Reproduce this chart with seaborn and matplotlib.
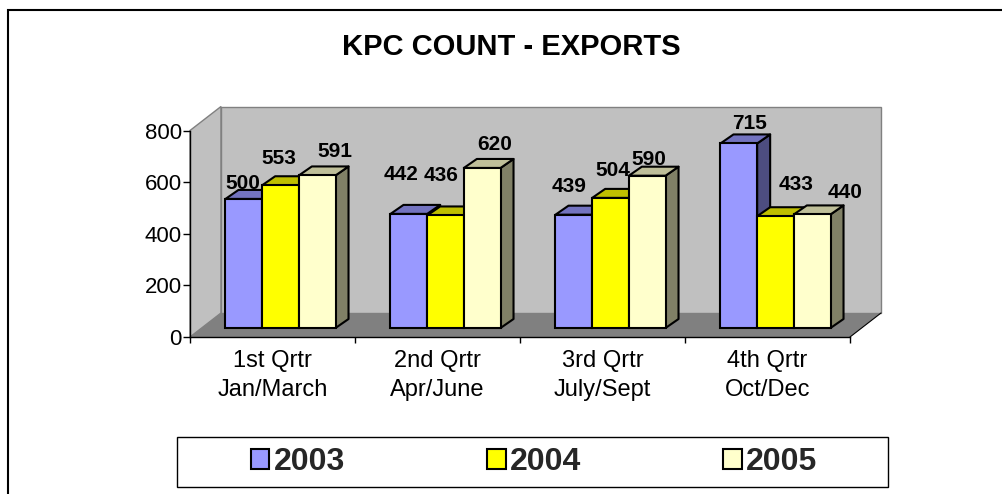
import numpy as np
import pandas as pd
import matplotlib
matplotlib.use("Agg")
import matplotlib.pyplot as plt
from matplotlib.patches import Polygon, Rectangle
from matplotlib.colors import to_rgb
import seaborn as sns

# data
quarters = ["1st Qrtr\nJan/March", "2nd Qrtr\nApr/June", "3rd Qrtr\nJuly/Sept", "4th Qrtr\nOct/Dec"]
years = ["2003", "2004", "2005"]
counts_2003 = [500, 442, 439, 715]
counts_2004 = [553, 436, 504, 433]
counts_2005 = [591, 620, 590, 440]
colors = ["#9999FF", "#FFFF00", "#FFFFCC"]

df = pd.DataFrame({
    "quarter": quarters * 3,
    "year": [years[0]] * 4 + [years[1]] * 4 + [years[2]] * 4,
    "count": counts_2003 + counts_2004 + counts_2005,
})

# excel-style label nudges (pixels, from top-front of each bar), left to right
label_nudge = [(-1, 15), (-2, 27), (18, 24),
               (-8, 39), (-4, 40), (13, 23),
               (-5, 28), (2, 27), (2, 16),
               (11, 20), (21, 32), (33, 22)]

sns.set_theme(style="white")
plt.rcParams["font.family"] = ["Liberation Sans", "DejaVu Sans"]

W, H = 1003, 494
fig = plt.figure(figsize=(W / 100, H / 100), dpi=100)

# front plane (axis) in pixels
x_left, x_right, y_zero, y_top = 190, 850, 337, 130.5
ax = fig.add_axes([x_left / W, 1 - y_zero / H, (x_right - x_left) / W, (y_zero - y_top) / H])
ax.set_xlim(-0.5, 3.5)
ax.set_ylim(0, 800)
ax.patch.set_alpha(0)

px_x = (x_right - x_left) / 4.0      # pixels per category
px_y = (y_zero - y_top) / 800.0      # pixels per unit

# walls and floor
wdx, wdy = 31 / px_x, 24 / px_y
ax.add_patch(Polygon([(-0.5, 0), (-0.5 + wdx, wdy), (-0.5 + wdx, 800 + wdy), (-0.5, 800)],
                     closed=True, facecolor="#C0C0C0", edgecolor="#808080", lw=1, clip_on=False, zorder=0))
ax.add_patch(Rectangle((-0.5 + wdx, wdy), 4, 800, facecolor="#C0C0C0", edgecolor="#808080",
                       lw=1, clip_on=False, zorder=0))
ax.add_patch(Polygon([(-0.5, 0), (3.5, 0), (3.5 + wdx, wdy), (-0.5 + wdx, wdy)],
                     closed=True, facecolor="#808080", edgecolor="none", clip_on=False, zorder=1))
ax.plot([3.5, 3.5 + wdx], [0, wdy], color="black", lw=0.8, clip_on=False, zorder=2)

for s in ["top", "right"]:
    ax.spines[s].set_visible(False)
for s in ["left", "bottom"]:
    ax.spines[s].set_color("black")
    ax.spines[s].set_linewidth(1)
ax.set_yticks([0, 200, 400, 600, 800])
ax.tick_params(axis="y", which="major", left=True, length=5, width=1, color="black",
               labelsize=16, pad=1, labelcolor="black")
ax.set_xticks([-0.5, 0.5, 1.5, 2.5, 3.5])
ax.set_xticklabels([])
ax.set_xticks([0, 1, 2, 3], minor=True)
ax.set_xticklabels(quarters, minor=True, fontsize=17, color="black", linespacing=1.45)
ax.tick_params(axis="x", which="major", bottom=True, length=4, width=1, color="black")
ax.tick_params(axis="x", which="minor", bottom=False, length=0, pad=9)
ax.set_xlabel("")
ax.set_ylabel("")

# bar plane, shifted into the depth
bdx, bdy = 8, 9
ax_bars = fig.add_axes([(x_left + bdx) / W, 1 - (y_zero - bdy) / H, (x_right - x_left) / W, (y_zero - y_top) / H])
sns.barplot(data=df, x="quarter", y="count", hue="year", palette=colors, width=0.667,
            saturation=1, edgecolor="black", linewidth=1.5, errorbar=None, ax=ax_bars)
handles, labels = ax_bars.get_legend_handles_labels()
ax_bars.get_legend().remove()
ax_bars.set_xlim(-0.5, 3.5)
ax_bars.set_ylim(0, 800)
ax_bars.axis("off")
ax_bars.patch.set_alpha(0)

# 3D sides and tops
ddx, ddy = 13 / px_x, 9 / px_y
bars = []
for c, cont in enumerate(ax_bars.containers):
    for b in cont:
        bars.append((b.get_x(), b, colors[c]))
bars.sort(key=lambda t: t[0])
for i, (x0, b, col) in enumerate(bars):
    w, h = b.get_width(), b.get_height()
    rgb = np.array(to_rgb(col))
    side = Polygon([(x0 + w, 0), (x0 + w + ddx, ddy), (x0 + w + ddx, h + ddy), (x0 + w, h)], closed=True,
                   facecolor=rgb * 0.5, edgecolor="black", lw=1.5, joinstyle="round", clip_on=False, zorder=3 + 3 * i)
    top = Polygon([(x0, h), (x0 + w, h), (x0 + w + ddx, h + ddy), (x0 + ddx, h + ddy)], closed=True,
                  facecolor=rgb * 0.75, edgecolor="black", lw=1.5, joinstyle="round", clip_on=False, zorder=3 + 3 * i)
    ax_bars.add_patch(side)
    ax_bars.add_patch(top)
    b.set_zorder(4 + 3 * i)
    b.set_clip_on(False)
    nx, ny = label_nudge[i]
    ax_bars.annotate(f"{int(round(h))}", xy=(x0 + w / 2, h), xytext=(nx, ny), textcoords="offset pixels",
                     ha="center", va="center", fontsize=15, fontweight="bold", color="black",
                     annotation_clip=False, zorder=100)

# title
fig.text(511 / W, 1 - 47 / H, "KPC COUNT - EXPORTS", ha="center", va="center",
         fontsize=21, fontweight="bold", color="black")

# legend
fig.patches.append(Rectangle((177 / W, 1 - 487 / H), (888 - 177) / W, 50 / H, transform=fig.transFigure,
                             facecolor="white", edgecolor="black", lw=1, zorder=1))
leg = fig.legend(handles, labels, loc="center", ncol=3, bbox_to_anchor=(534 / W, 1 - 462 / H),
                 prop={"size": 23, "weight": "bold"}, frameon=False,
                 handlelength=0.58, handleheight=0.58, handletextpad=0.13, columnspacing=4.45,
                 borderaxespad=0, borderpad=0)
leg.set_zorder(5)
for p in leg.get_patches():
    p.set_edgecolor("black")
    p.set_linewidth(1.5)

# chart border
fig.patches.append(Rectangle((8 / W, -0.1), 1.2, 1 - 10 / H + 0.1, transform=fig.transFigure,
                             fill=False, edgecolor="black", lw=1.5, zorder=0))

fig.savefig("out.png", dpi=100)
